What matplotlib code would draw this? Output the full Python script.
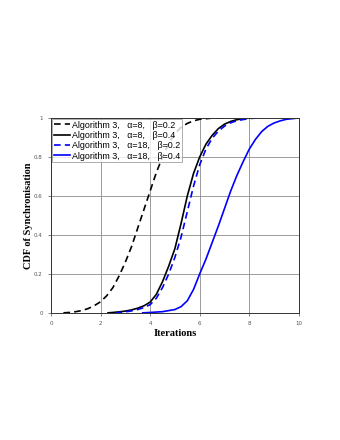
import matplotlib
matplotlib.use("Agg")
import matplotlib.pyplot as plt

# Values
x_a8_b02 = [0.5, 0.75, 1.0, 1.25, 1.5, 1.75, 2.0, 2.25, 2.5, 2.75, 3.0, 3.25, 3.5, 3.75, 4.0, 4.25, 4.5, 4.75, 5.0, 5.25, 5.5, 5.75, 6.0, 6.5, 7.0]
y_a8_b02 = [0.0, 0.002, 0.006, 0.012, 0.022, 0.037, 0.057, 0.088, 0.13, 0.19, 0.26, 0.34, 0.435, 0.53, 0.625, 0.72, 0.8, 0.87, 0.92, 0.952, 0.972, 0.985, 0.993, 0.999, 1.0]

x_a8_b04 = [2.3, 2.5, 2.75, 3.0, 3.25, 3.5, 3.75, 4.0, 4.25, 4.5, 4.75, 5.0, 5.25, 5.5, 5.75, 6.0, 6.25, 6.5, 6.75, 7.0, 7.25, 7.5, 8.0]
y_a8_b04 = [0.0, 0.002, 0.005, 0.009, 0.015, 0.024, 0.036, 0.055, 0.095, 0.16, 0.24, 0.33, 0.46, 0.6, 0.715, 0.8, 0.865, 0.91, 0.945, 0.968, 0.982, 0.991, 1.0]

x_a18_b02 = [2.6, 3.0, 3.25, 3.5, 3.75, 4.0, 4.25, 4.5, 4.75, 5.0, 5.25, 5.5, 5.75, 6.0, 6.25, 6.5, 6.75, 7.0, 7.25, 7.5, 8.0, 8.4]
y_a18_b02 = [0.0, 0.005, 0.01, 0.017, 0.027, 0.042, 0.075, 0.13, 0.2, 0.285, 0.39, 0.52, 0.65, 0.76, 0.84, 0.895, 0.932, 0.958, 0.975, 0.986, 0.997, 1.0]

x_a18_b04 = [3.7, 4.0, 4.5, 5.0, 5.25, 5.5, 5.75, 6.0, 6.25, 6.5, 6.75, 7.0, 7.25, 7.5, 7.75, 8.0, 8.25, 8.5, 8.75, 9.0, 9.25, 9.5, 10.0]
y_a18_b04 = [0.0, 0.002, 0.006, 0.017, 0.032, 0.062, 0.12, 0.2, 0.275, 0.36, 0.445, 0.535, 0.625, 0.705, 0.775, 0.84, 0.89, 0.93, 0.957, 0.974, 0.985, 0.993, 1.0]

x_ticks = [0, 2, 4, 6, 8, 10]
y_ticks = [0, 0.2, 0.4, 0.6, 0.8, 1]
y_tick_labels = ["0", "0.2", "0.4", "0.6", "0.8", "1"]

fig = plt.figure(figsize=(3.4, 4.4), dpi=100)
ax = fig.add_axes([0.15, 0.289, 0.729, 0.443])

dash = (0, (4, 2.5))
ax.plot(x_a8_b02, y_a8_b02, color="black", linestyle=dash, linewidth=1.2,
        label="Algorithm 3,   \u03b1=8,   \u03b2=0.2")
ax.plot(x_a8_b04, y_a8_b04, color="black", linestyle="-", linewidth=1.2,
        label="Algorithm 3,   \u03b1=8,   \u03b2=0.4")
ax.plot(x_a18_b02, y_a18_b02, color="blue", linestyle=dash, linewidth=1.2,
        label="Algorithm 3,   \u03b1=18,   \u03b2=0.2")
ax.plot(x_a18_b04, y_a18_b04, color="blue", linestyle="-", linewidth=1.2,
        label="Algorithm 3,   \u03b1=18,   \u03b2=0.4")

ax.set_xlim(0, 10)
ax.set_ylim(0, 1)
ax.set_xticks(x_ticks)
ax.set_yticks(y_ticks)
ax.set_yticklabels(y_tick_labels)
ax.tick_params(labelsize=4, colors="#555555", length=2, width=0.5, pad=4)
ax.grid(True, color="#8c8c8c", linewidth=0.6)
for s in ax.spines.values():
    s.set_linewidth(0.7)
    s.set_color("#333333")

ax.set_xlabel("Iterations", fontfamily="Liberation Serif", fontweight="bold", fontsize=7.5, labelpad=2)
ax.set_ylabel("CDF of Synchronisation", fontfamily="Liberation Serif", fontweight="bold", fontsize=7.5, labelpad=1)

leg = ax.legend(loc="upper left", frameon=True, fancybox=False,
                prop={"family": ["Liberation Sans", "DejaVu Sans"], "size": 6.4},
                borderaxespad=0.1, borderpad=0.2, labelspacing=0.15, handlelength=1.8,
                handletextpad=0.25, edgecolor="#888888")
leg.get_frame().set_linewidth(0.6)

fig.savefig("out.png", dpi=100)
